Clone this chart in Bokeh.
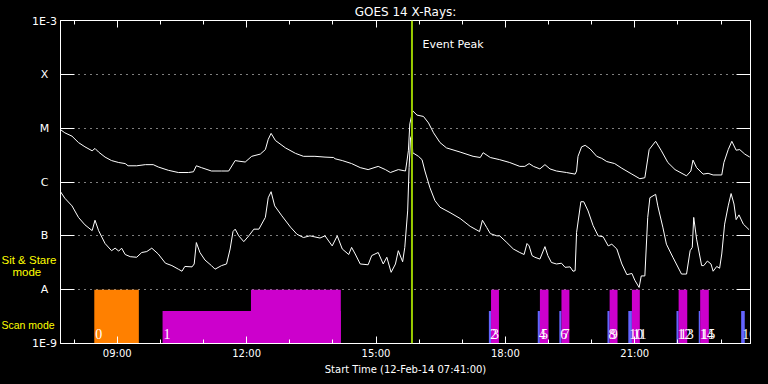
import pandas as pd
from bokeh.plotting import figure
from bokeh.layouts import row
from bokeh.core.properties import value
from bokeh.models import (ColumnDataSource, FixedTicker, DatetimeAxis, LogAxis, LinearAxis,
                          DatetimeTickFormatter, Span, Label, LabelSet, Range1d)
from bokeh.embed import file_html
from bokeh.resources import INLINE

DAY = "2014-02-12 "
start_time = "07:41"
end_time = "23:41"
peak_time = "15:50"

# GOES 14 long channel (1-8 A), W/m^2
long_channel = [
    ("07:41", 9.4e-6), ("07:47", 8.2e-6), ("07:57", 7.1e-6), ("08:06", 5.4e-6), ("08:15", 4.5e-6),
    ("08:25", 3.8e-6), ("08:29", 4.2e-6), ("08:34", 3.6e-6), ("08:43", 2.9e-6), ("08:52", 2.5e-6),
    ("09:02", 2.3e-6), ("09:11", 2.2e-6), ("09:15", 2.0e-6), ("09:27", 2.0e-6), ("09:39", 2.1e-6),
    ("09:50", 2.1e-6), ("09:57", 1.9e-6), ("10:11", 1.65e-6), ("10:25", 1.5e-6), ("10:39", 1.5e-6),
    ("10:46", 1.55e-6), ("10:50", 2.0e-6), ("10:57", 1.85e-6), ("11:11", 1.6e-6), ("11:25", 1.6e-6),
    ("11:35", 1.6e-6), ("11:44", 2.5e-6), ("11:48", 2.45e-6), ("11:58", 2.35e-6), ("12:07", 3.0e-6),
    ("12:19", 3.3e-6), ("12:26", 4.0e-6), ("12:30", 6.2e-6), ("12:34", 8.0e-6), ("12:40", 5.9e-6),
    ("12:54", 4.3e-6), ("13:08", 3.4e-6), ("13:19", 3.0e-6), ("13:35", 3.0e-6), ("13:49", 2.9e-6),
    ("14:01", 2.85e-6), ("14:03", 2.7e-6), ("14:13", 2.5e-6), ("14:26", 2.2e-6), ("14:38", 1.85e-6),
    ("14:49", 1.7e-6), ("15:03", 1.95e-6), ("15:13", 1.7e-6), ("15:20", 1.5e-6), ("15:31", 1.7e-6),
    ("15:41", 1.6e-6), ("15:43", 2.45e-6), ("15:45", 3.8e-6), ("15:47", 1.2e-5), ("15:51", 2.1e-5),
    ("15:57", 1.75e-5), ("16:06", 1.65e-5), ("16:13", 1.25e-5), ("16:20", 8.2e-6), ("16:29", 5.4e-6),
    ("16:38", 4.3e-6), ("16:57", 3.6e-6), ("17:15", 3.0e-6), ("17:25", 2.85e-6), ("17:29", 3.5e-6),
    ("17:39", 2.85e-6), ("17:52", 2.6e-6), ("18:06", 2.3e-6), ("18:20", 1.95e-6), ("18:27", 1.95e-6),
    ("18:33", 2.2e-6), ("18:39", 1.95e-6), ("18:48", 1.75e-6), ("18:55", 2.1e-6), ("19:02", 1.75e-6),
    ("19:11", 1.6e-6), ("19:25", 1.5e-6), ("19:37", 1.4e-6), ("19:39", 1.6e-6), ("19:41", 3.0e-6),
    ("19:46", 4.5e-6), ("19:51", 4.8e-6), ("19:58", 4.1e-6), ("20:07", 3.0e-6), ("20:14", 2.75e-6),
    ("20:21", 2.4e-6), ("20:32", 2.2e-6), ("20:42", 1.8e-6), ("20:56", 1.4e-6), ("21:07", 1.15e-6),
    ("21:14", 1.2e-6), ("21:20", 4.0e-6), ("21:29", 5.7e-6), ("21:37", 3.8e-6), ("21:46", 2.3e-6),
    ("21:56", 1.7e-6), ("22:12", 1.3e-6), ("22:18", 1.6e-6), ("22:21", 2.55e-6), ("22:26", 1.85e-6),
    ("22:35", 1.4e-6), ("22:42", 1.45e-6), ("22:49", 1.35e-6), ("23:01", 1.35e-6), ("23:04", 2.3e-6),
    ("23:10", 4.0e-6), ("23:15", 5.7e-6), ("23:21", 3.9e-6), ("23:26", 4.0e-6), ("23:33", 3.3e-6),
    ("23:40", 2.9e-6),
]

# GOES 14 short channel (0.5-4 A), W/m^2
short_channel = [
    ("07:41", 6.6e-7), ("07:47", 5.0e-7), ("07:57", 3.6e-7), ("08:06", 2.2e-7), ("08:15", 1.6e-7),
    ("08:25", 1.25e-7), ("08:29", 1.95e-7), ("08:34", 1.25e-7), ("08:43", 7.2e-8), ("08:52", 5.3e-8),
    ("08:57", 5.9e-8), ("09:02", 5.2e-8), ("09:06", 5.9e-8), ("09:11", 4.5e-8), ("09:18", 4.1e-8),
    ("09:27", 4.0e-8), ("09:34", 4.9e-8), ("09:41", 5.1e-8), ("09:48", 5.9e-8), ("09:57", 4.6e-8),
    ("10:07", 3.1e-8), ("10:16", 2.8e-8), ("10:25", 2.4e-8), ("10:30", 2.2e-8), ("10:34", 2.7e-8),
    ("10:44", 2.65e-8), ("10:47", 3.0e-8), ("10:50", 7.5e-8), ("10:55", 4.9e-8), ("11:02", 3.55e-8),
    ("11:11", 2.8e-8), ("11:16", 2.4e-8), ("11:25", 2.8e-8), ("11:32", 3.0e-8), ("11:37", 5.7e-8),
    ("11:41", 1.2e-7), ("11:44", 1.33e-7), ("11:49", 1.0e-7), ("11:56", 7.8e-8), ("12:03", 1.0e-7),
    ("12:10", 1.33e-7), ("12:17", 1.33e-7), ("12:26", 2.2e-7), ("12:30", 5.1e-7), ("12:34", 6.6e-7),
    ("12:39", 3.6e-7), ("12:49", 2.35e-7), ("13:01", 1.45e-7), ("13:10", 1.07e-7), ("13:19", 9.3e-8),
    ("13:28", 1.0e-7), ("13:42", 9.1e-8), ("13:49", 1.0e-7), ("13:59", 6.5e-8), ("14:06", 1.0e-7),
    ("14:13", 5.7e-8), ("14:22", 4.5e-8), ("14:26", 6.1e-8), ("14:31", 4.6e-8), ("14:38", 3.0e-8),
    ("14:49", 2.9e-8), ("14:54", 4.3e-8), ("15:03", 4.9e-8), ("15:10", 3.0e-8), ("15:15", 4.0e-8),
    ("15:21", 2.1e-8), ("15:27", 3.0e-8), ("15:31", 5.3e-8), ("15:37", 3.3e-8), ("15:40", 6.1e-8),
    ("15:44", 2.9e-7), ("15:46", 1.85e-6), ("15:48", 6.6e-6), ("15:50", 7.5e-6), ("15:51", 3.5e-6),
    ("15:59", 3.0e-6), ("16:04", 2.6e-6), ("16:08", 1.6e-6), ("16:15", 7.8e-7), ("16:22", 4.5e-7),
    ("16:29", 3.4e-7), ("16:43", 2.7e-7), ("16:57", 2.1e-7), ("17:11", 1.5e-7), ("17:24", 1.2e-7),
    ("17:28", 1.95e-7), ("17:34", 1.43e-7), ("17:39", 1.1e-7), ("17:48", 1.0e-7), ("17:52", 1.0e-7),
    ("18:02", 7.5e-8), ("18:11", 5.7e-8), ("18:20", 4.9e-8), ("18:26", 4.5e-8), ("18:30", 7.2e-8),
    ("18:33", 6.5e-8), ("18:37", 4.3e-8), ("18:41", 4.0e-8), ("18:48", 3.7e-8), ("18:55", 6.3e-8),
    ("18:59", 4.3e-8), ("19:04", 3.2e-8), ("19:11", 3.0e-8), ("19:18", 3.1e-8), ("19:23", 2.6e-8),
    ("19:30", 2.65e-8), ("19:34", 2.2e-8), ("19:37", 2.25e-8), ("19:39", 1.15e-7), ("19:45", 4.3e-7),
    ("19:49", 4.3e-7), ("19:55", 2.9e-7), ("20:02", 1.55e-7), ("20:09", 1.0e-7), ("20:16", 9.6e-8),
    ("20:23", 6.5e-8), ("20:28", 7.0e-8), ("20:35", 5.7e-8), ("20:42", 3.0e-8), ("20:49", 1.9e-8),
    ("20:56", 2.0e-8), ("21:00", 1.5e-8), ("21:06", 1.1e-8), ("21:09", 1.8e-8), ("21:14", 1.8e-8),
    ("21:18", 2.2e-7), ("21:21", 5.1e-7), ("21:29", 5.9e-7), ("21:32", 3.6e-7), ("21:39", 1.45e-7),
    ("21:44", 7.0e-8), ("21:53", 4.0e-8), ("22:05", 1.95e-8), ("22:12", 1.95e-8), ("22:17", 5.3e-8),
    ("22:20", 6.1e-8), ("22:22", 2.2e-7), ("22:26", 8.7e-8), ("22:33", 2.8e-8), ("22:36", 2.8e-8),
    ("22:41", 3.4e-8), ("22:46", 3.0e-8), ("22:49", 2.2e-8), ("22:54", 2.7e-8), ("22:58", 2.5e-8),
    ("23:01", 4.6e-8), ("23:05", 1.65e-7), ("23:10", 3.6e-7), ("23:14", 6.1e-7), ("23:18", 3.9e-7),
    ("23:21", 2.0e-7), ("23:25", 2.45e-7), ("23:31", 1.65e-7), ("23:39", 1.3e-7),
]

level_values = [1e-3, 1e-4, 1e-5, 1e-6, 1e-7, 1e-8, 1e-9]
level_labels = ["1E-3", "X", "M", "C", "B", "A", "1E-9"]
major_hours = ["09:00", "12:00", "15:00", "18:00", "21:00"]
minor_hours = ["08:00", "09:00", "10:00", "11:00", "12:00", "13:00", "14:00", "15:00",
               "16:00", "17:00", "18:00", "19:00", "20:00", "21:00", "22:00", "23:00"]

# observations: start, end, mode, label ("" = continuation of the previous one)
obs_start = ["08:28", "10:03", "12:06", "17:37", "17:40", "18:45", "18:48", "19:15", "19:18",
             "20:22", "20:25", "20:51", "20:56", "21:58", "22:01", "22:29", "22:31", "23:28"]
obs_end = ["09:30", "14:11", "14:11", "17:40", "17:51", "18:48", "19:00", "19:18", "19:29",
           "20:25", "20:36", "20:56", "21:07", "22:01", "22:13", "22:31", "22:43", "23:33"]
obs_mode = ["stare", "scan", "stare", "scan", "stare", "scan", "stare", "scan", "stare",
            "scan", "stare", "scan", "stare", "scan", "stare", "scan", "stare", "scan"]
obs_label = ["0", "1", "", "2", "3", "4", "5", "6", "7", "8", "9", "10", "11", "12", "13",
             "14", "15", "16"]
obs_color = ["#ff8000", "#cc00cc", "#cc00cc", "#6464ff", "#cc00cc", "#6464ff", "#cc00cc",
             "#6464ff", "#cc00cc", "#6464ff", "#cc00cc", "#6464ff", "#cc00cc", "#6464ff",
             "#cc00cc", "#6464ff", "#cc00cc", "#6464ff"]
mode_top = {"stare": 1e-8, "scan": 4e-9}
flux_floor = 1e-9

caption_texts = ["Sit & Stare", "mode", "Scan mode"]


def ms(s):
    return pd.Timestamp(DAY + s).value / 1e6


t0, t1 = ms(start_time), ms(end_time)

# page layout (pixels)
W, H = 768, 384
SIDE_W = 57
FL, FT, FR, FB = 60, 19, 750, 343
LEVEL_X = 44


def tx(px):
    return t0 + (t1 - t0) * (px - FL) / (FR - FL)


def fy(py):
    return 10 ** (-3 - 6 * (py - FT) / (FB - FT))


FONT = "DejaVu Sans"

# ---------------- side panel with the level names and mode captions ----------------
# (its frame is aligned with the main frame by the row layout)
side = figure(width=SIDE_W, height=H, y_axis_type="log",
              x_range=Range1d(0, SIDE_W), y_range=Range1d(1e-9, 1e-3),
              output_backend="svg", toolbar_location=None,
              x_axis_location=None, y_axis_location=None,
              background_fill_color="black", border_fill_color="black",
              outline_line_color=None, min_border=0)
side.grid.visible = False
inner = [i for i in range(len(level_values)) if 0 < i < len(level_values) - 1]
lev_src = ColumnDataSource(dict(x=[LEVEL_X] * len(inner), y=[level_values[i] for i in inner],
                                text=[level_labels[i] for i in inner]))
side.text(x="x", y="y", text="text", source=lev_src, text_color="white", text_font=value(FONT),
          text_font_size=value("11px"), text_align="center", text_baseline="middle")
# end levels (on the frame edges) drawn as axis labels so they are not clipped
for loc, lab in [("above", level_labels[0]), ("below", level_labels[-1])]:
    ax = LinearAxis(ticker=FixedTicker(ticks=[LEVEL_X], minor_ticks=[]),
                    major_label_overrides={LEVEL_X: lab})
    ax.axis_line_color = None
    ax.major_tick_line_color = None
    ax.minor_tick_line_color = None
    ax.major_tick_out = 0
    ax.major_tick_in = 0
    ax.major_label_text_color = "white"
    ax.major_label_text_font = FONT
    ax.major_label_text_font_size = "11px"
    ax.major_label_standoff = -7
    side.add_layout(ax, loc)
cap_src = ColumnDataSource(dict(x=[1, 12, 1], y=[fy(259), fy(271), fy(324)],
                                size=["11.5px", "11.5px", "10.5px"], text=caption_texts))
side.text(x="x", y="y", text="text", source=cap_src, text_color="#ffff00",
          text_font=value("Liberation Sans"), text_font_size="size",
          text_align="left", text_baseline="middle")

# ---------------- main plot ----------------
p = figure(width=W - SIDE_W, height=H, x_axis_type="datetime", y_axis_type="log",
           x_range=Range1d(t0, t1), y_range=Range1d(1e-9, 1e-3),
           output_backend="svg", toolbar_location=None,
           background_fill_color="black", border_fill_color="black",
           outline_line_color="white",
           min_border_left=FL - SIDE_W, min_border_right=W - FR,
           min_border_top=FT, min_border_bottom=H - FB)
p.title.text = "GOES 14 X-Rays:"
p.title.align = "center"
p.title.text_color = "white"
p.title.text_font = FONT
p.title.text_font_size = "12px"
p.title.text_font_style = "normal"
p.title.standoff = 4

left_axis = p.left[0]
bottom_axis = p.below[0]

right_axis = LogAxis()
p.add_layout(right_axis, "right")
for ax in [left_axis, right_axis]:
    ax.ticker = FixedTicker(ticks=level_values, minor_ticks=[])
    ax.major_tick_in = 14
    ax.major_tick_out = 0
    ax.minor_tick_in = 0
    ax.minor_tick_out = 0
    ax.major_label_text_font_size = "1px"
    ax.major_label_text_color = None
    ax.major_label_standoff = 0
    ax.axis_line_color = "white"
    ax.major_tick_line_color = "white"

top_axis = DatetimeAxis()
p.add_layout(top_axis, "above")
for ax in [bottom_axis, top_axis]:
    ax.ticker = FixedTicker(ticks=[ms(h) for h in major_hours],
                            minor_ticks=[ms(h) for h in minor_hours])
    ax.formatter = DatetimeTickFormatter(hours="%H:%M", hourmin="%H:%M", minutes="%H:%M",
                                         minsec="%H:%M", days="%H:%M", seconds="%H:%M",
                                         context=None)
    ax.major_tick_in = 7
    ax.major_tick_out = 0
    ax.minor_tick_in = 4
    ax.minor_tick_out = 0
    ax.axis_line_color = "white"
    ax.major_tick_line_color = "white"
    ax.minor_tick_line_color = "white"
bottom_axis.major_label_text_color = "white"
bottom_axis.major_label_text_font = FONT
bottom_axis.major_label_text_font_size = "10px"
bottom_axis.major_label_standoff = 4
bottom_axis.axis_label = "Start Time (12-Feb-14 07:41:00)"
bottom_axis.axis_label_text_color = "white"
bottom_axis.axis_label_text_font = FONT
bottom_axis.axis_label_text_font_size = "10px"
bottom_axis.axis_label_text_font_style = "normal"
bottom_axis.axis_label_standoff = 2
top_axis.major_label_text_font_size = "1px"
top_axis.major_label_text_color = None
top_axis.major_label_standoff = 0

p.xgrid.grid_line_color = None
p.ygrid.ticker = FixedTicker(ticks=level_values[1:-1])
p.ygrid.grid_line_color = "white"
p.ygrid.grid_line_dash = "1 5"
p.ygrid.grid_line_width = 1

# observation bars
obs_src = ColumnDataSource(dict(
    left=[ms(s) for s in obs_start],
    right=[ms(e) for e in obs_end],
    top=[mode_top[m] for m in obs_mode],
    bottom=[flux_floor] * len(obs_start),
    color=obs_color,
))
p.quad(left="left", right="right", top="top", bottom="bottom", fill_color="color",
       line_color=None, source=obs_src)
lab_idx = [i for i, s in enumerate(obs_label) if s]
lab_src = ColumnDataSource(dict(
    x=[ms(obs_start[i]) for i in lab_idx],
    y=[flux_floor] * len(lab_idx),
    text=[obs_label[i] for i in lab_idx],
))
p.add_layout(LabelSet(x="x", y="y", text="text", source=lab_src, x_offset=1, y_offset=5,
                      text_color="white", text_font=FONT, text_font_size="14px",
                      text_baseline="alphabetic"))

# flux curves
p.line([ms(t) for t, _ in long_channel], [v for _, v in long_channel], line_color="white", line_width=1)
p.line([ms(t) for t, _ in short_channel], [v for _, v in short_channel], line_color="white", line_width=1)

# event peak
p.add_layout(Span(location=ms(peak_time), dimension="height", line_color="#99cc00", line_width=2))
p.add_layout(Label(x=tx(422), y=fy(43), text="Event Peak", text_color="white", text_font=FONT,
                   text_font_size="11px", text_baseline="middle"))

layout = row(side, p, spacing=0)
html = file_html(layout, INLINE)
html = html.replace("</head>", "<style>html, body { background-color: #000000; }</style></head>", 1)
open("out.html", "w").write(html)
